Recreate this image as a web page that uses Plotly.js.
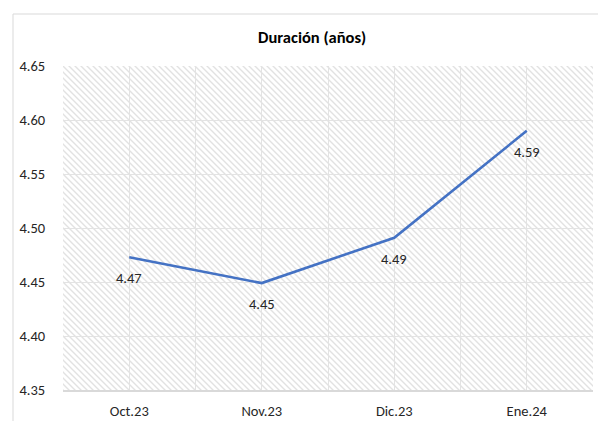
<!DOCTYPE html>
<html>
<head>
<meta charset="utf-8">
<script src="https://cdn.plot.ly/plotly-3.0.1.min.js"></script>
<style>
html,body{margin:0;padding:0;background:#fff;}
#chart{width:598px;height:421px;}
</style>
</head>
<body>
<div id="chart"></div>
<script>
var categories = ["Oct.23", "Nov.23", "Dic.23", "Ene.24"];
var duracion = [4.473, 4.449, 4.491, 4.590];
var yTicks = [4.35, 4.40, 4.45, 4.50, 4.55, 4.60, 4.65];

var FONT = "Calibri, Carlito, Lato, 'Open Sans', sans-serif";
var xIdx = categories.map(function (c, i) { return i; });

// hatch pattern background as an SVG image
var W = 530, H = 324, s = 6;
var hatchSvg = '<svg xmlns="http://www.w3.org/2000/svg" width="' + W + '" height="' + H + '">' +
  '<defs><pattern id="p" patternUnits="userSpaceOnUse" width="' + s + '" height="' + s + '">' +
  '<path d="M0,0 L' + s + ',' + s + ' M-1,' + (s - 1) + ' L1,' + (s + 1) + ' M' + (s - 1) + ',-1 L' + (s + 1) + ',1" ' +
  'stroke="#e2e2e2" stroke-width="1.4"/></pattern></defs>' +
  '<rect width="100%" height="100%" fill="#ffffff"/><rect width="100%" height="100%" fill="url(#p)"/></svg>';
var hatchUri = 'data:image/svg+xml;base64,' + btoa(hatchSvg);

var trace = {
  x: xIdx,
  y: duracion,
  type: 'scatter',
  mode: 'lines',
  line: {color: '#4472C4', width: 2.6},
  hoverinfo: 'skip',
  showlegend: false
};

var annotations = xIdx.map(function (x, i) {
  return {
    x: x, y: duracion[i], xref: 'x', yref: 'y',
    text: duracion[i].toFixed(2),
    showarrow: false, yshift: -21,
    font: {family: FONT, size: 14.5, color: '#262626'}
  };
});

var layout = {
  width: 598, height: 421,
  margin: {l: 63, r: 5, t: 66, b: 31},
  paper_bgcolor: '#ffffff',
  plot_bgcolor: 'rgba(0,0,0,0)',
  title: {
    text: '<b>Duración (años)</b>',
    font: {family: FONT, size: 16.5, color: '#000000'},
    x: 0.522, xanchor: 'center', y: 0.912, yanchor: 'middle'
  },
  xaxis: {
    type: 'linear',
    range: [-0.5, categories.length - 0.5],
    tickmode: 'array', tickvals: xIdx, ticktext: categories,
    showgrid: true, gridcolor: '#e3e3e3', gridwidth: 1,
    minor: {tickmode: 'linear', tick0: -0.5, dtick: 1, showgrid: true, gridcolor: '#e3e3e3', gridwidth: 1},
    showline: true, linecolor: '#d9d9d9', linewidth: 1.5,
    zeroline: false,
    ticks: 'outside', ticklen: 7, tickcolor: 'rgba(0,0,0,0)',
    tickfont: {family: FONT, size: 14.5, color: '#262626'},
    fixedrange: true
  },
  yaxis: {
    range: [4.35, 4.65],
    tickmode: 'array', tickvals: yTicks, ticktext: yTicks.map(function (v) { return v.toFixed(2); }),
    showgrid: true, gridcolor: '#e3e3e3', gridwidth: 1,
    zeroline: false, showline: false,
    ticks: 'outside', ticklen: 14, tickcolor: 'rgba(0,0,0,0)',
    tickfont: {family: FONT, size: 14.5, color: '#262626'},
    fixedrange: true
  },
  images: [{
    source: hatchUri, xref: 'paper', yref: 'paper',
    x: 0, y: 1, sizex: 1, sizey: 1, xanchor: 'left', yanchor: 'top',
    sizing: 'stretch', layer: 'below'
  }],
  shapes: [{
    type: 'rect', xref: 'paper', yref: 'paper',
    x0: (13 - 63) / 530, x1: 1.2, y0: -0.3, y1: (390 - 14) / 324,
    line: {color: '#d9d9d9', width: 1}, fillcolor: 'rgba(0,0,0,0)', layer: 'below'
  }],
  annotations: annotations
};

Plotly.newPlot('chart', [trace], layout, {displayModeBar: false, staticPlot: true});
</script>
</body>
</html>
